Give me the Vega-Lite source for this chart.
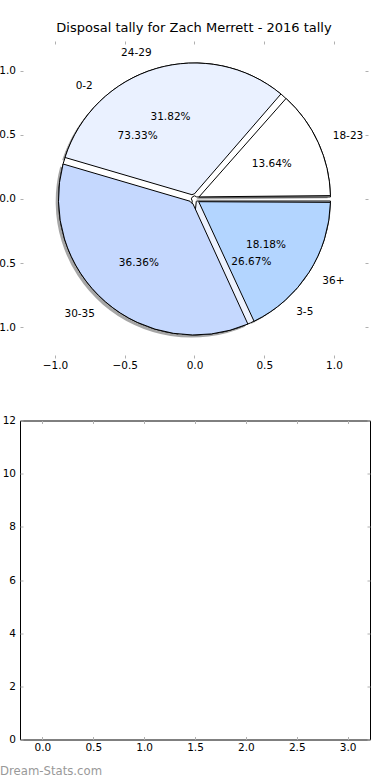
{
  "$schema": "https://vega.github.io/schema/vega-lite/v6.json",
  "padding": {"left": -10, "top": 22, "right": 20, "bottom": 2},
  "background": "white",
  "config": {
    "font": "DejaVu Sans",
    "view": {"stroke": null},
    "axis": {"grid": false, "domain": false, "tickColor": "#b0b0b0", "tickSize": -3, "tickWidth": 1, "labelFont": "DejaVu Sans", "labelFontSize": 10.5, "labelColor": "#000000", "labelPadding": 7.5}
  },
  "datasets": {
    "pieA": [
      {"range": "18-23", "share": 0.1364},
      {"range": "24-29", "share": 0.3182},
      {"range": "30-35", "share": 0.3636},
      {"range": "36+", "share": 0.1818}
    ],
    "pieB": [
      {"range": "0-2", "share": 0.7333},
      {"range": "3-5", "share": 0.2667}
    ]
  },
  "bounds": "flush",
  "spacing": 62.5,
  "vconcat": [
    {
      "width": 348,
      "height": 317,
      "title": {"text": "Disposal tally for Zach Merrett - 2016 tally", "font": "DejaVu Sans", "fontSize": 13, "fontWeight": "normal", "color": "#000000", "anchor": "middle", "baseline": "alphabetic", "offset": -4.5},
      "layer": [
        {
          "data": {"name": "pieA"},
          "mark": {"type": "arc", "outerRadius": 136, "innerRadius": 5, "padAngle": 0.05, "fill": "#4d4d4d", "fillOpacity": 0.5, "xOffset": -2.8, "yOffset": 2.6},
          "encoding": {
            "x": {"datum": 0, "type": "quantitative", "scale": {"domain": [-1.251, 1.244], "nice": false, "zero": false}, "axis": {"orient": "bottom", "values": [-1, -0.5, 0, 0.5, 1], "format": ".1f", "title": null, "labelPadding": 5.5}},
            "y": {"datum": 0, "type": "quantitative", "scale": {"domain": [-1.242, 1.234], "nice": false, "zero": false}, "axis": {"orient": "left", "values": [-1, -0.5, 0, 0.5, 1], "format": ".1f", "title": null}},
            "theta": {"field": "share", "type": "quantitative", "stack": true, "scale": {"domain": [0, 1], "range": [1.5708, 7.854]}},
            "order": {"field": "range", "sort": "descending"}
          }
        },
        {
          "data": {"name": "pieB"},
          "mark": {"type": "arc", "outerRadius": 136, "innerRadius": 3, "padAngle": 0.03, "stroke": "#000000", "strokeWidth": 1},
          "encoding": {
            "x": {"datum": 0, "type": "quantitative", "scale": {"domain": [-1.251, 1.244], "nice": false, "zero": false}, "axis": null},
            "y": {"datum": 0, "type": "quantitative", "scale": {"domain": [-1.242, 1.234], "nice": false, "zero": false}, "axis": null},
            "theta": {"field": "share", "type": "quantitative", "stack": true, "scale": {"domain": [0, 1], "range": [1.5708, 7.854]}},
            "order": {"field": "range", "sort": "descending"},
            "color": {"field": "range", "type": "nominal", "scale": {"domain": ["18-23", "24-29", "30-35", "36+", "0-2", "3-5"], "range": ["#ffffff", "#eaf1ff", "#c5d8fe", "#b3d5ff", "#ffffff", "#edf2fe"]}, "legend": null}
          }
        },
        {
          "data": {"name": "pieA"},
          "mark": {"type": "arc", "outerRadius": 136, "innerRadius": 5, "padAngle": 0.05, "stroke": "#000000", "strokeWidth": 1},
          "encoding": {
            "x": {"datum": 0, "type": "quantitative", "scale": {"domain": [-1.251, 1.244], "nice": false, "zero": false}, "axis": {"orient": "top", "values": [-1, -0.5, 0, 0.5, 1], "labels": false, "title": null}},
            "y": {"datum": 0, "type": "quantitative", "scale": {"domain": [-1.242, 1.234], "nice": false, "zero": false}, "axis": {"orient": "right", "values": [-1, -0.5, 0, 0.5, 1], "labels": false, "title": null}},
            "theta": {"field": "share", "type": "quantitative", "stack": true, "scale": {"domain": [0, 1], "range": [1.5708, 7.854]}},
            "order": {"field": "range", "sort": "descending"},
            "color": {"field": "range", "type": "nominal", "scale": {"domain": ["18-23", "24-29", "30-35", "36+", "0-2", "3-5"], "range": ["#ffffff", "#eaf1ff", "#c5d8fe", "#b3d5ff", "#ffffff", "#edf2fe"]}, "legend": null}
          }
        },
        {
          "data": {"name": "pieA"},
          "mark": {"type": "text", "radius": 85, "fontSize": 10.5, "font": "DejaVu Sans", "color": "#000000", "align": "center", "baseline": "middle"},
          "encoding": {
            "x": {"datum": 0, "type": "quantitative", "scale": {"domain": [-1.251, 1.244], "nice": false, "zero": false}, "axis": null},
            "y": {"datum": 0, "type": "quantitative", "scale": {"domain": [-1.242, 1.234], "nice": false, "zero": false}, "axis": null},
            "theta": {"field": "share", "type": "quantitative", "stack": true, "scale": {"domain": [0, 1], "range": [1.5708, 7.854]}},
            "order": {"field": "range", "sort": "descending"},
            "text": {"field": "share", "type": "quantitative", "format": ".2%"}
          }
        },
        {
          "data": {"name": "pieB"},
          "mark": {"type": "text", "radius": 85, "fontSize": 10.5, "font": "DejaVu Sans", "color": "#000000", "align": "center", "baseline": "middle"},
          "encoding": {
            "x": {"datum": 0, "type": "quantitative", "scale": {"domain": [-1.251, 1.244], "nice": false, "zero": false}, "axis": null},
            "y": {"datum": 0, "type": "quantitative", "scale": {"domain": [-1.242, 1.234], "nice": false, "zero": false}, "axis": null},
            "theta": {"field": "share", "type": "quantitative", "stack": true, "scale": {"domain": [0, 1], "range": [1.5708, 7.854]}},
            "order": {"field": "range", "sort": "descending"},
            "text": {"field": "share", "type": "quantitative", "format": ".2%"}
          }
        },
        {
          "data": {"name": "pieA"},
          "mark": {"type": "text", "radius": 152, "fontSize": 10.5, "font": "DejaVu Sans", "color": "#000000", "align": "right", "baseline": "middle"},
          "encoding": {
            "x": {"datum": 0, "type": "quantitative", "scale": {"domain": [-1.251, 1.244], "nice": false, "zero": false}, "axis": null},
            "y": {"datum": 0, "type": "quantitative", "scale": {"domain": [-1.242, 1.234], "nice": false, "zero": false}, "axis": null},
            "theta": {"field": "share", "type": "quantitative", "stack": true, "scale": {"domain": [0, 1], "range": [1.5708, 7.854]}},
            "order": {"field": "range", "sort": "descending"},
            "text": {"condition": {"test": "datum.range == '24-29' || datum.range == '30-35'", "field": "range", "type": "nominal"}, "value": ""}
          }
        },
        {
          "data": {"name": "pieA"},
          "mark": {"type": "text", "radius": 152, "fontSize": 10.5, "font": "DejaVu Sans", "color": "#000000", "align": "left", "baseline": "middle"},
          "encoding": {
            "x": {"datum": 0, "type": "quantitative", "scale": {"domain": [-1.251, 1.244], "nice": false, "zero": false}, "axis": null},
            "y": {"datum": 0, "type": "quantitative", "scale": {"domain": [-1.242, 1.234], "nice": false, "zero": false}, "axis": null},
            "theta": {"field": "share", "type": "quantitative", "stack": true, "scale": {"domain": [0, 1], "range": [1.5708, 7.854]}},
            "order": {"field": "range", "sort": "descending"},
            "text": {"condition": {"test": "datum.range == '18-23' || datum.range == '36+'", "field": "range", "type": "nominal"}, "value": ""}
          }
        },
        {
          "data": {"name": "pieB"},
          "mark": {"type": "text", "radius": 152, "fontSize": 10.5, "font": "DejaVu Sans", "color": "#000000", "align": "right", "baseline": "middle"},
          "encoding": {
            "x": {"datum": 0, "type": "quantitative", "scale": {"domain": [-1.251, 1.244], "nice": false, "zero": false}, "axis": null},
            "y": {"datum": 0, "type": "quantitative", "scale": {"domain": [-1.242, 1.234], "nice": false, "zero": false}, "axis": null},
            "theta": {"field": "share", "type": "quantitative", "stack": true, "scale": {"domain": [0, 1], "range": [1.5708, 7.854]}},
            "order": {"field": "range", "sort": "descending"},
            "text": {"condition": {"test": "datum.range == '0-2'", "field": "range", "type": "nominal"}, "value": ""}
          }
        },
        {
          "data": {"name": "pieB"},
          "mark": {"type": "text", "radius": 152, "fontSize": 10.5, "font": "DejaVu Sans", "color": "#000000", "align": "left", "baseline": "middle"},
          "encoding": {
            "x": {"datum": 0, "type": "quantitative", "scale": {"domain": [-1.251, 1.244], "nice": false, "zero": false}, "axis": null},
            "y": {"datum": 0, "type": "quantitative", "scale": {"domain": [-1.242, 1.234], "nice": false, "zero": false}, "axis": null},
            "theta": {"field": "share", "type": "quantitative", "stack": true, "scale": {"domain": [0, 1], "range": [1.5708, 7.854]}},
            "order": {"field": "range", "sort": "descending"},
            "text": {"condition": {"test": "datum.range == '3-5'", "field": "range", "type": "nominal"}, "value": ""}
          }
        }
      ],
      "resolve": {"axis": {"x": "independent", "y": "independent"}}
    },
    {
      "width": 350,
      "height": 319,
      "view": {"stroke": "#000000", "strokeWidth": 1},
      "title": {"text": "Dream-Stats.com", "orient": "bottom", "anchor": "start", "frame": "group", "dx": -20, "font": "DejaVu Sans", "fontSize": 11.7, "fontWeight": "normal", "color": "#999999", "offset": 13},
      "data": {"values": []},
      "layer": [
        {
          "mark": {"type": "point", "opacity": 0},
          "encoding": {
            "x": {"field": "x", "type": "quantitative", "scale": {"domain": [-0.22, 3.22], "nice": false, "zero": false}, "axis": {"orient": "bottom", "values": [0, 0.5, 1, 1.5, 2, 2.5, 3], "format": ".1f", "title": null, "labelPadding": 6}},
            "y": {"field": "y", "type": "quantitative", "scale": {"domain": [0, 12], "nice": false}, "axis": {"orient": "left", "values": [0, 2, 4, 6, 8, 10, 12], "format": "d", "title": null}}
          }
        },
        {
          "mark": {"type": "point", "opacity": 0},
          "encoding": {
            "x": {"field": "x", "type": "quantitative", "scale": {"domain": [-0.22, 3.22], "nice": false, "zero": false}, "axis": {"orient": "top", "values": [0, 0.5, 1, 1.5, 2, 2.5, 3], "labels": false, "title": null}},
            "y": {"field": "y", "type": "quantitative", "scale": {"domain": [0, 12], "nice": false}, "axis": {"orient": "right", "values": [0, 2, 4, 6, 8, 10, 12], "labels": false, "title": null}}
          }
        }
      ],
      "resolve": {"axis": {"x": "independent", "y": "independent"}}
    }
  ]
}
